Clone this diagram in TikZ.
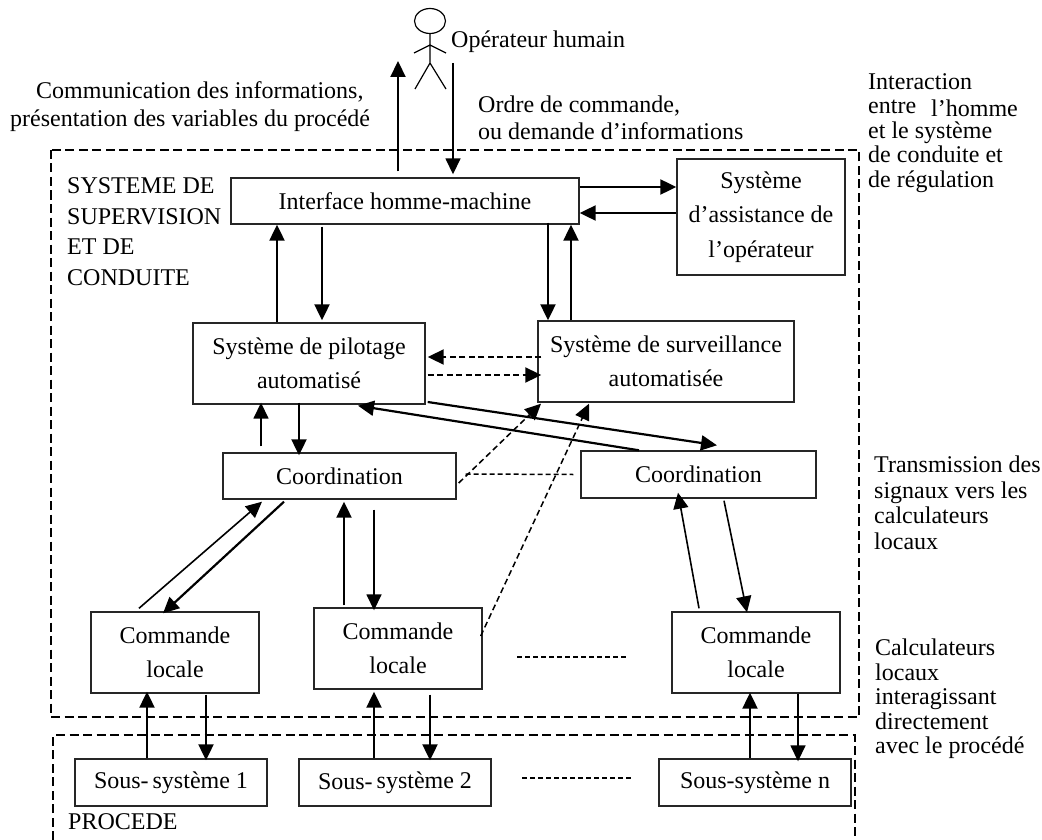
\documentclass[tikz,border=0pt]{standalone}
\usepackage{fontspec}
\setmainfont{Liberation Serif}
\usetikzlibrary{arrows.meta,shapes.geometric}
\tikzset{
  boxn/.style={draw=black!85,line width=1.4pt,inner sep=0pt,align=center,font=\fontsize{24}{34.5}\selectfont},
  lab/.style={inner sep=0pt,anchor=west,align=left},
  thin arr/.style={line width=1.6pt,-{Triangle[length=16pt,width=15pt]}},
  thick arr/.style={line width=2.2pt,-{Triangle[length=16pt,width=15pt]}},
  dash arr/.style={line width=2pt,dash pattern=on 6pt off 3.5pt,-{Triangle[length=16pt,width=15pt]}},
  thin dash arr/.style={line width=1.5pt,dash pattern=on 6pt off 3.5pt,-{Triangle[length=16pt,width=15pt]}},
  thin dash/.style={line width=1.5pt,dash pattern=on 5pt off 3pt},
  frame/.style={line width=2.2pt,dash pattern=on 9pt off 4.5pt},
  stick/.style={line width=1.2pt}
}
\begin{document}
\begin{tikzpicture}[x=1pt,y=-1pt]
\useasboundingbox (0,0) rectangle (1042,840);
% frames
\draw[frame] (51,150) rectangle (859,717);
\draw[frame] (53,840) -- (53,735) -- (855,735) -- (855,840);
% boxes
\node[boxn,minimum width=348pt,minimum height=46pt] (iface) at (405,201) {Interface homme-machine};
\node[boxn,minimum width=168pt,minimum height=116pt] (assist) at (761,217) {Système\\d’assistance de\\l’opérateur};
\node[boxn,minimum width=232pt,minimum height=81pt] (pil) at (309,363.5) {Système de pilotage\\automatisé};
\node[boxn,minimum width=256pt,minimum height=81pt] (surv) at (666,361.5) {Système de surveillance\\automatisée};
\node[boxn,minimum width=233pt,minimum height=46pt] (coo1) at (339.5,476) {Coordination};
\node[boxn,minimum width=235pt,minimum height=47pt] (coo2) at (698.5,474.5) {Coordination};
\node[boxn,minimum width=168pt,minimum height=81pt] (cmd1) at (175,652.5) {Commande\\locale};
\node[boxn,minimum width=168pt,minimum height=81pt] (cmd2) at (398,648.5) {Commande\\locale};
\node[boxn,minimum width=168pt,minimum height=81pt] (cmdn) at (756,652.5) {Commande\\locale};
\node[boxn,minimum width=192pt,minimum height=47pt] (ss1) at (171,782.5) {Sous-\,système 1};
\node[boxn,minimum width=192pt,minimum height=47pt] (ss2) at (395,782.5) {Sous-\,\raisebox{1.5pt}{système 2}};
\node[boxn,minimum width=192pt,minimum height=47pt] (ssn) at (755,782.5) {Sous-système n};
% operator
\node[draw,stick,ellipse,inner sep=0pt,minimum width=31pt,minimum height=25pt] (head) at (430,21) {};
\coordinate (hip) at (430,63);
\coordinate (shoulder) at (430,45);
\coordinate (handl) at (414,53);
\coordinate (handr) at (446,53);
\coordinate (footl) at (415,89);
\coordinate (footr) at (446,89);
\draw[stick] (head.south) -- (hip) (handl) -- (shoulder) -- (handr) (footl) -- (hip) -- (footr);
\coordinate (opup) at (398,61);
\coordinate (opdn) at (453,63);
% labels
\begin{scope}[every node/.append style={font=\fontsize{24}{24}\selectfont}]
\node[lab] (top) at (451,42) {Opérateur humain};
\node[lab,font=\fontsize{24}{28}\selectfont] (comm) at (10,107) {\hspace*{26pt}Communication des informations,\\présentation des variables du procédé};
\node[lab,font=\fontsize{24}{27}\selectfont] (ordre) at (478,117.5) {Ordre de commande,\\ou demande d’informations};
\node[lab,font=\fontsize{24}{24.5}\selectfont] (inter) at (868,133) {Interaction\\entre\hspace{15pt}\raisebox{-3pt}{l’homme}\\et le système\\de conduite et\\de régulation};
\node[lab,font=\fontsize{24}{30.5}\selectfont] (sup) at (67,231.5) {SYSTEME DE\\SUPERVISION\\ET DE\\CONDUITE};
\node[lab,font=\fontsize{24}{25.5}\selectfont] (trans) at (874,503) {Transmission des\\signaux vers les\\calculateurs\\locaux};
\node[lab,font=\fontsize{24}{24.5}\selectfont] (calc) at (875,699) {Calculateurs\\locaux\\interagissant\\directement\\avec le procédé};
\node[lab] (proc) at (68,822) {PROCEDE};
\end{scope}
% operator arrows
\draw[thick arr] ([xshift=-7pt,yshift=6pt]iface.north) -- (opup);
\draw[thin arr] (opdn) -- ([xshift=48pt,yshift=3pt]iface.north);
% interface connections
\draw[thick arr] ([xshift=-32pt]pil.north) -- ([xshift=-128pt]iface.south);
\draw[thick arr] ([xshift=-83pt,yshift=-2pt]iface.south) -- ([xshift=13pt,yshift=2pt]pil.north);
\draw[thick arr] ([xshift=143pt,yshift=2pt]iface.south) -- ([xshift=-118pt]surv.north);
\draw[thick arr] ([xshift=-95pt]surv.north) -- ([xshift=166pt]iface.south);
\draw[thick arr] ([yshift=14pt]iface.east) -- ([yshift=30pt]assist.west);
\draw[thick arr] ([yshift=4pt]assist.west) -- ([yshift=-12pt]iface.east);
% pilot / surveillance
\draw[dash arr] ([xshift=4pt,yshift=4.5pt]surv.west) -- ([xshift=2pt,yshift=6.5pt]pil.east);
\draw[dash arr] ([xshift=2pt,yshift=-11.5pt]pil.east) -- ([xshift=4pt,yshift=-13.5pt]surv.west);
% pilot / coordination
\draw[thick arr] ([xshift=2pt,yshift=-38.5pt]pil.east) -- ([xshift=18.5pt,yshift=5pt]coo2.north);
\draw[thick arr] ([xshift=-59.5pt]coo2.north) -- ([xshift=49pt,yshift=-1pt]pil.south);
\draw[thick arr] ([xshift=-10pt,yshift=2pt]pil.south) -- ([xshift=-40.5pt,yshift=-3pt]coo1.north);
\draw[thin arr] ([xshift=-78.5pt,yshift=6pt]coo1.north) -- ([xshift=-48pt,yshift=2pt]pil.south);
% dashed
\draw[thin dash arr] ([xshift=2pt,yshift=-7pt]coo1.east) -- ([xshift=-125pt,yshift=-1pt]surv.south);
\draw[thin dash arr] ([xshift=-2pt,yshift=12.5pt]cmd2.east) -- ([xshift=-77pt,yshift=-1pt]surv.south);
\draw[thin dash] ([xshift=9pt,yshift=2pt]coo1.east) -- ([xshift=-7pt]coo2.west);
% coordination / commande
\draw[thin arr] ([xshift=-36pt,yshift=3pt]cmd1.north) -- ([xshift=-77.5pt,yshift=-2pt]coo1.south);
\draw[thick arr] ([xshift=-55.5pt,yshift=-2pt]coo1.south) -- ([xshift=-12pt,yshift=-2pt]cmd1.north);
\draw[thick arr] ([xshift=-54pt,yshift=2pt]cmd2.north) -- ([xshift=4.5pt,yshift=-2pt]coo1.south);
\draw[thin arr] ([xshift=34.5pt,yshift=-10pt]coo1.south) -- ([xshift=-24pt,yshift=-3pt]cmd2.north);
\draw[thin arr] ([xshift=-57pt,yshift=3pt]cmdn.north) -- ([xshift=-20.5pt,yshift=6pt]coo2.south);
\draw[thin arr] ([xshift=25.5pt,yshift=-2pt]coo2.south) -- ([xshift=-9pt,yshift=-1pt]cmdn.north);
% commande / sous-systemes
\draw[thick arr] ([xshift=-24pt]ss1.north) -- ([xshift=-28pt,yshift=2pt]cmd1.south);
\draw[thick arr] ([xshift=31pt,yshift=-1pt]cmd1.south) -- ([xshift=35pt,yshift=-2pt]ss1.north);
\draw[thick arr] ([xshift=-21pt]ss2.north) -- ([xshift=-24pt,yshift=-2pt]cmd2.south);
\draw[thick arr] ([xshift=32pt,yshift=-5pt]cmd2.south) -- ([xshift=35pt,yshift=-2pt]ss2.north);
\draw[thick arr] ([xshift=-5pt]ssn.north) -- ([xshift=-6pt,yshift=1pt]cmdn.south);
\draw[thin arr] ([xshift=42pt]cmdn.south) -- ([xshift=43pt,yshift=-3pt]ssn.north);
% gaps
\coordinate (g1a) at (517,657); \coordinate (g1b) at (627,657);
\coordinate (g2a) at (522,778); \coordinate (g2b) at (632,778);
\draw[thin dash] (g1a) -- (g1b);
\draw[thin dash] (g2a) -- (g2b);
\end{tikzpicture}
\end{document}
